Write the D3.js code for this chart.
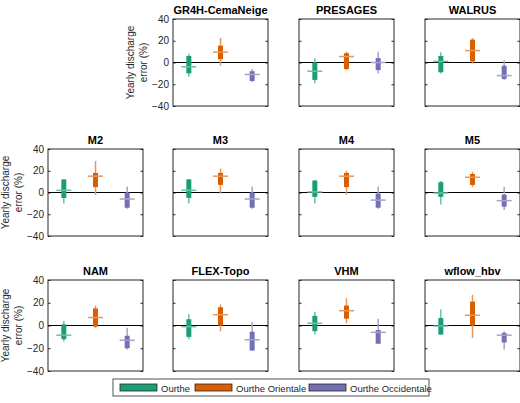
<!DOCTYPE html>
<html>
<head>
<meta charset="utf-8">
<script src="https://cdn.jsdelivr.net/npm/d3@7"></script>
<style>
  body { margin: 0; background: #fff; }
  svg { font-family: "Liberation Sans", Arial, sans-serif; }
</style>
</head>
<body>
<div id="chart"></div>
<script>
// model names, in the order they are drawn
var models = ["GR4H-CemaNeige", "PRESAGES", "WALRUS", "M2", "M3", "M4", "M5",
              "NAM", "FLEX-Topo", "VHM", "wflow_hbv"];
var seriesNames = ["Ourthe", "Ourthe Orientale", "Ourthe Occidentale"];
var seriesColors = ["#1b9e77", "#d95f02", "#7570b3"];
var yTicks = [-40, -20, 0, 20, 40];

// box plot statistics (%), one row per model, one value per catchment
var whiskerLow = [
  [-13, -3, -18], [-19, -7, -10], [-10, -1, -16], [-10, -2, -15], [-10, -1, -15],
  [-10, -2, -15], [-11, 5, -16], [-14, -2, -21], [-12, -5, -22], [-8, 2, -16], [-8, -11, -21]
];
var boxLow = [
  [-10, 3, -17], [-16, -6, -7], [-9, 1, -15], [-5, 5, -14], [-5, 7, -14],
  [-4, 5, -14], [-4, 7, -13], [-12, -1, -20], [-10, 0, -22], [-5, 6, -16], [-8, 0, -15]
];
var median = [
  [-4, 9.5, -11], [-8, 5.5, 0], [1, 11, -12], [2, 15, -6], [2, 15, -6],
  [0.5, 15, -7], [-0.5, 14, -7.5], [-8.5, 7, -13], [-1, 9.5, -12.5], [2, 13, -6], [-0.5, 9, -8.5]
];
var boxHigh = [
  [6, 15.5, -8], [0, 8.5, 4], [6, 21, -3], [12, 18, 0], [12, 18, 0],
  [11, 18, -1], [9.5, 17, -2], [1, 15, -9], [5.5, 16, -5.5], [8.5, 17.5, -4], [6.5, 21, -6.5]
];
var whiskerHigh = [
  [8, 22.5, -6], [4, 10, 10], [9.5, 22.5, 2], [12.5, 29, 5.5], [12.5, 22, 5.5],
  [11.5, 20, 5.5], [10.5, 19, 5], [4, 17.5, -2], [10, 18.5, 3], [12, 24, 6], [14, 27, -5]
];

var width = 520, height = 403;
var svg = d3.select("#chart").append("svg")
  .attr("width", width)
  .attr("height", height);

// panel grid: column lefts and row top/bottom
var colLeft = [48, 173, 299, 425];
var panelW = 95;
var rows = [[19, 106], [149, 236], [280, 371]];
var cells = [[0,1],[0,2],[0,3],[1,0],[1,1],[1,2],[1,3],[2,0],[2,1],[2,2],[2,3]];

var x = d3.scaleBand().domain(seriesNames).range([0, panelW]);

models.forEach(function(name, m) {
  var r = cells[m][0], c = cells[m][1];
  var top = rows[r][0], bottom = rows[r][1];
  var y = d3.scaleLinear().domain([-40, 40]).range([bottom - top, 0]);
  var firstInRow = c == 0 || (r == 0 && c == 1);

  var g = svg.append("g")
    .attr("transform", "translate(" + colLeft[c] + "," + top + ")");

  // title
  g.append("text")
    .attr("x", panelW / 2)
    .attr("y", -5)
    .attr("text-anchor", "middle")
    .style("font-size", "11px")
    .style("font-weight", "bold")
    .text(name);

  // inner ticks on both sides
  var left = d3.axisLeft(y).tickValues(yTicks).tickSizeInner(-2.5).tickSizeOuter(0);
  var right = d3.axisRight(y).tickValues(yTicks).tickSizeInner(-2.5).tickSizeOuter(0).tickFormat("");
  var la = g.append("g").call(left);
  var ra = g.append("g").attr("transform", "translate(" + panelW + ",0)").call(right);
  [la, ra].forEach(function(a) {
    a.select(".domain").remove();
    a.selectAll("line").attr("stroke", "#262626");
  });
  la.selectAll("text").attr("x", -4).style("font-size", "10px").attr("fill", "#262626");
  if (!firstInRow) la.selectAll("text").remove();

  // zero line
  g.append("line")
    .attr("x1", 0).attr("x2", panelW)
    .attr("y1", y(0)).attr("y2", y(0))
    .attr("stroke", "#000").attr("stroke-width", 1);

  // boxes
  seriesNames.forEach(function(s, i) {
    var cx = x(s) + x.bandwidth() / 2;
    var col = seriesColors[i];
    var light = d3.interpolateRgb(col, "#fff")(0.35);
    g.append("line")
      .attr("x1", cx).attr("x2", cx)
      .attr("y1", y(whiskerLow[m][i])).attr("y2", y(whiskerHigh[m][i]))
      .attr("stroke", light).attr("stroke-width", 1.5);
    g.append("rect")
      .attr("x", cx - 2.5).attr("width", 5)
      .attr("y", y(boxHigh[m][i]))
      .attr("height", y(boxLow[m][i]) - y(boxHigh[m][i]))
      .attr("fill", col);
    g.append("line")
      .attr("x1", cx - 7.5).attr("x2", cx + 7.5)
      .attr("y1", y(median[m][i])).attr("y2", y(median[m][i]))
      .attr("stroke", light).attr("stroke-width", 1.5);
  });

  // frame
  g.append("rect")
    .attr("width", panelW).attr("height", bottom - top)
    .attr("fill", "none").attr("stroke", "#262626").attr("stroke-width", 1);

  // y label on the first panel of each row
  if (firstInRow) {
    var lab = g.append("text")
      .attr("transform", "translate(-39," + (bottom - top) / 2 + ") rotate(-90)")
      .attr("text-anchor", "middle")
      .style("font-size", "10px")
      .attr("fill", "#262626");
    lab.append("tspan").attr("x", 0).attr("dy", 0).text("Yearly discharge");
    lab.append("tspan").attr("x", 0).attr("dy", "13px").text("error (%)");
  }
});

// legend
var legend = svg.append("g").attr("transform", "translate(113,379)");
legend.append("rect")
  .attr("width", 316).attr("height", 17)
  .attr("fill", "#fff").attr("stroke", "#262626").attr("stroke-width", 0.8);
var legX = [7, 82, 196];
seriesNames.forEach(function(s, i) {
  legend.append("rect")
    .attr("x", legX[i]).attr("y", 5).attr("width", 37).attr("height", 7)
    .attr("fill", seriesColors[i]).attr("stroke", "#262626").attr("stroke-width", 0.8);
  legend.append("text")
    .attr("x", legX[i] + 41).attr("y", 12.5)
    .style("font-size", "9.5px")
    .attr("fill", "#262626")
    .text(s);
});
</script>
</body>
</html>
